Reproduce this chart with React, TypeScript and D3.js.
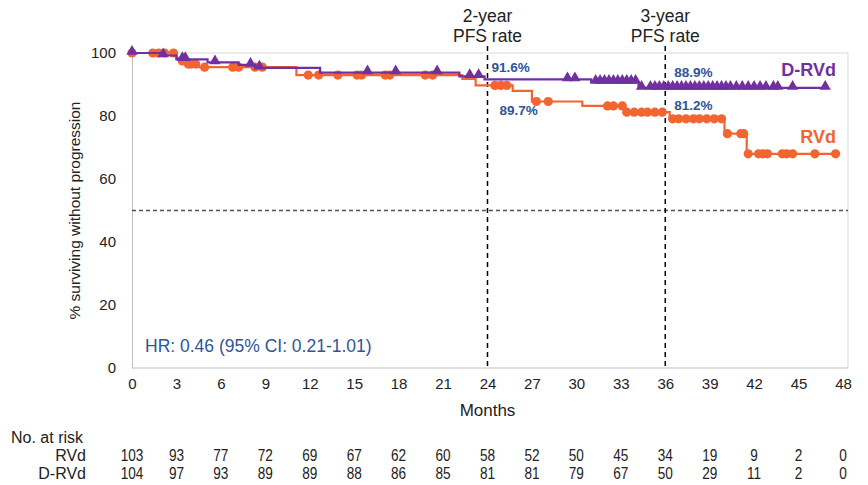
import React, { useEffect, useRef } from 'react';
import * as d3 from 'd3';

// KM steps: [month, % surviving without progression] after each event
const rvdSteps: [number, number][] = [
  [0, 100], [3.0, 98.5], [3.3, 97.5], [3.6, 96.5], [4.5, 95.5], [11.1, 93.0],
  [22.3, 91.8], [23.2, 89.7], [25.7, 88.0], [27.0, 84.6], [30.4, 83.2],
  [33.3, 81.2], [36.3, 79.1], [40.0, 74.4], [41.5, 68.0],
];
const rvdEnd = 47.5;
const rvdCensored = [
  0, 1.4, 1.8, 2.2, 2.8, 3.4, 3.8, 4.0, 4.3, 4.9, 6.8, 7.2, 8.3, 8.8, 11.9, 12.6,
  13.9, 15.2, 15.5, 17.1, 17.4, 19.8, 20.3, 24.5, 24.9, 25.3, 27.3, 28.1, 32.1,
  32.5, 33.1, 33.4, 33.9, 34.4, 34.8, 35.3, 35.8, 36.5, 36.9, 37.4, 37.9, 38.3,
  38.8, 39.3, 39.8, 40.2, 41.1, 41.3, 41.6, 42.3, 42.6, 42.9, 43.9, 44.2, 44.6,
  46.1, 47.5,
];

const drvdSteps: [number, number][] = [
  [0, 100], [2.0, 99.2], [3.0, 98.0], [5.1, 97.0], [7.2, 96.2], [8.3, 95.3],
  [12.7, 93.8], [22.1, 92.6], [23.8, 91.6], [31.0, 90.8], [34.2, 88.9],
];
const drvdEnd = 46.8;
const drvdCensored = [
  0, 2.1, 3.4, 3.6, 5.6, 8.0, 8.6, 15.9, 17.8, 20.6, 22.8, 23.4, 29.4, 29.9,
  31.3, 31.6, 31.9, 32.2, 32.5, 32.8, 33.1, 33.4, 33.7, 34.0, 34.4, 35.0, 35.3,
  35.6, 35.9, 36.2, 36.5, 36.8, 37.1, 37.4, 37.7, 38.0, 38.3, 38.6, 38.9, 39.2,
  39.5, 39.8, 40.1, 40.4, 40.8, 41.2, 41.6, 42.0, 42.4, 42.8, 43.3, 43.6, 44.6,
  46.8,
];

const xTicks = d3.range(0, 49, 3);
const yTicks = [0, 20, 40, 60, 80, 100];
const riskRVd = [103, 93, 77, 72, 69, 67, 62, 60, 58, 52, 50, 45, 34, 19, 9, 2, 0];
const riskDRVd = [104, 97, 93, 89, 89, 88, 86, 85, 81, 81, 79, 67, 50, 29, 11, 2, 0];

// landmark estimates
const landmarks = [
  { month: 24, lines: ['2-year', 'PFS rate'], drvd: '91.6%', rvd: '89.7%' },
  { month: 36, lines: ['3-year', 'PFS rate'], drvd: '88.9%', rvd: '81.2%' },
];

const ORANGE = '#F26531';
const PURPLE = '#7030A0';
const BLUE = '#2F5597';
const FONT = 'Liberation Sans, Arial, sans-serif';

const W = 868;
const H = 485;

const valueAt = (steps: [number, number][], t: number) => {
  let v = steps[0][1];
  for (const [m, s] of steps) if (m <= t) v = s;
  return v;
};

export default function App() {
  const svgRef = useRef<SVGSVGElement>(null);

  useEffect(() => {
    if (!svgRef.current) return;
    const svg = d3.select(svgRef.current);
    svg.selectAll('*').remove();

    const x = d3.scaleLinear().domain([0, 48]).range([132, 843]);
    const y = d3.scaleLinear().domain([0, 100]).range([368, 53]);
    const plotRight = 848;

    // plot frame
    svg.append('line').attr('x1', x(0)).attr('x2', plotRight).attr('y1', y(100)).attr('y2', y(100))
      .attr('stroke', '#d9d9d9');
    svg.append('line').attr('x1', plotRight).attr('x2', plotRight).attr('y1', y(100)).attr('y2', y(0))
      .attr('stroke', '#d9d9d9');

    // axes
    const yAxis = svg.append('g')
      .attr('transform', `translate(${x(0)},0)`)
      .call(d3.axisLeft(y).tickValues(yTicks).tickSize(0).tickPadding(16));
    yAxis.select('.domain').attr('stroke', '#bfbfbf');
    yAxis.selectAll('text').style('font-size', '15px').style('font-family', FONT).attr('fill', '#222');

    const xAxis = svg.append('g')
      .attr('transform', `translate(0,${y(0)})`)
      .call(d3.axisBottom(x).tickValues(xTicks).tickSize(0).tickPadding(10));
    xAxis.select('.domain').attr('stroke', '#bfbfbf').attr('d', `M${x(0)},0H${plotRight}`);
    xAxis.selectAll('text').style('font-size', '15px').style('font-family', FONT).attr('fill', '#222');

    svg.append('text')
      .attr('transform', `translate(80,${y(50)}) rotate(-90)`)
      .attr('text-anchor', 'middle')
      .style('font-family', FONT).style('font-size', '15.5px').attr('fill', '#222')
      .text('% surviving without progression');

    svg.append('text')
      .attr('x', x(24)).attr('y', 416)
      .attr('text-anchor', 'middle')
      .style('font-family', FONT).style('font-size', '17px').attr('fill', '#222')
      .text('Months');

    // median reference line
    svg.append('line')
      .attr('x1', x(0)).attr('x2', plotRight).attr('y1', y(50)).attr('y2', y(50))
      .attr('stroke', '#44546A').attr('stroke-width', 1.3).attr('stroke-dasharray', '4,3');

    // landmark lines + titles
    landmarks.forEach(l => {
      svg.append('line')
        .attr('x1', x(l.month)).attr('x2', x(l.month)).attr('y1', 46).attr('y2', y(0))
        .attr('stroke', '#000').attr('stroke-width', 1.5).attr('stroke-dasharray', '5,4');
      l.lines.forEach((s, i) => {
        svg.append('text')
          .attr('x', x(l.month)).attr('y', 22 + i * 20)
          .attr('text-anchor', 'middle')
          .style('font-family', FONT).style('font-size', '17.5px').attr('fill', '#222')
          .text(s);
      });
    });

    const line = d3.line<[number, number]>()
      .x(d => x(d[0]))
      .y(d => y(d[1]))
      .curve(d3.curveStepAfter);

    const drawCurve = (steps: [number, number][], end: number, color: string) => {
      const pts: [number, number][] = [...steps, [end, steps[steps.length - 1][1]]];
      svg.append('path')
        .datum(pts)
        .attr('fill', 'none')
        .attr('stroke', color)
        .attr('stroke-width', 2.2)
        .attr('d', line);
    };

    // RVd
    drawCurve(rvdSteps, rvdEnd, ORANGE);
    svg.append('g').selectAll('circle')
      .data(rvdCensored)
      .join('circle')
      .attr('cx', d => x(d))
      .attr('cy', d => y(valueAt(rvdSteps, d)))
      .attr('r', 4.6)
      .attr('fill', ORANGE);

    // D-RVd
    drawCurve(drvdSteps, drvdEnd, PURPLE);
    const tri = d3.symbol().type(d3.symbolTriangle).size(55);
    svg.append('g').selectAll('path')
      .data(drvdCensored)
      .join('path')
      .attr('transform', d => `translate(${x(d)},${y(valueAt(drvdSteps, d)) - 1.5})`)
      .attr('d', tri)
      .attr('fill', PURPLE);

    // landmark values
    const pct = (tx: number, ty: number, s: string) =>
      svg.append('text')
        .attr('x', tx).attr('y', ty)
        .style('font-family', FONT).style('font-size', '13.5px').style('font-weight', 'bold')
        .attr('fill', BLUE).text(s);
    pct(x(24) + 4, 72, landmarks[0].drvd);
    pct(x(24) + 12, 115, landmarks[0].rvd);
    pct(x(36) + 9, 77, landmarks[1].drvd);
    pct(x(36) + 9, 110, landmarks[1].rvd);

    // series labels
    svg.append('text')
      .attr('x', 836).attr('y', 76).attr('text-anchor', 'end')
      .style('font-family', FONT).style('font-size', '18px').style('font-weight', 'bold')
      .attr('fill', PURPLE).text('D-RVd');
    svg.append('text')
      .attr('x', 836).attr('y', 143).attr('text-anchor', 'end')
      .style('font-family', FONT).style('font-size', '18px').style('font-weight', 'bold')
      .attr('fill', ORANGE).text('RVd');

    svg.append('text')
      .attr('x', 145).attr('y', 352)
      .style('font-family', FONT).style('font-size', '17.5px')
      .attr('fill', BLUE).text('HR: 0.46 (95% CI: 0.21-1.01)');

    // numbers at risk (condensed look like the source)
    const risk = svg.append('g')
      .style('font-family', FONT).style('font-size', '16px').attr('fill', '#222');
    risk.append('text').attr('x', 11).attr('y', 443).text('No. at risk');
    [{ name: 'RVd', vals: riskRVd, ty: 461 }, { name: 'D-RVd', vals: riskDRVd, ty: 479 }].forEach(r => {
      risk.append('text').attr('x', 86).attr('y', r.ty).attr('text-anchor', 'end').text(r.name);
      risk.selectAll(null)
        .data(r.vals)
        .join('text')
        .attr('transform', (_, i) => `translate(${x(xTicks[i])},${r.ty}) scale(0.85,1)`)
        .attr('text-anchor', 'middle')
        .text(d => String(d));
    });
  }, []);

  return (
    <svg
      ref={svgRef}
      width={W}
      height={H}
      style={{ position: 'absolute', left: 0, top: 0, background: '#fff' }}
    />
  );
}
